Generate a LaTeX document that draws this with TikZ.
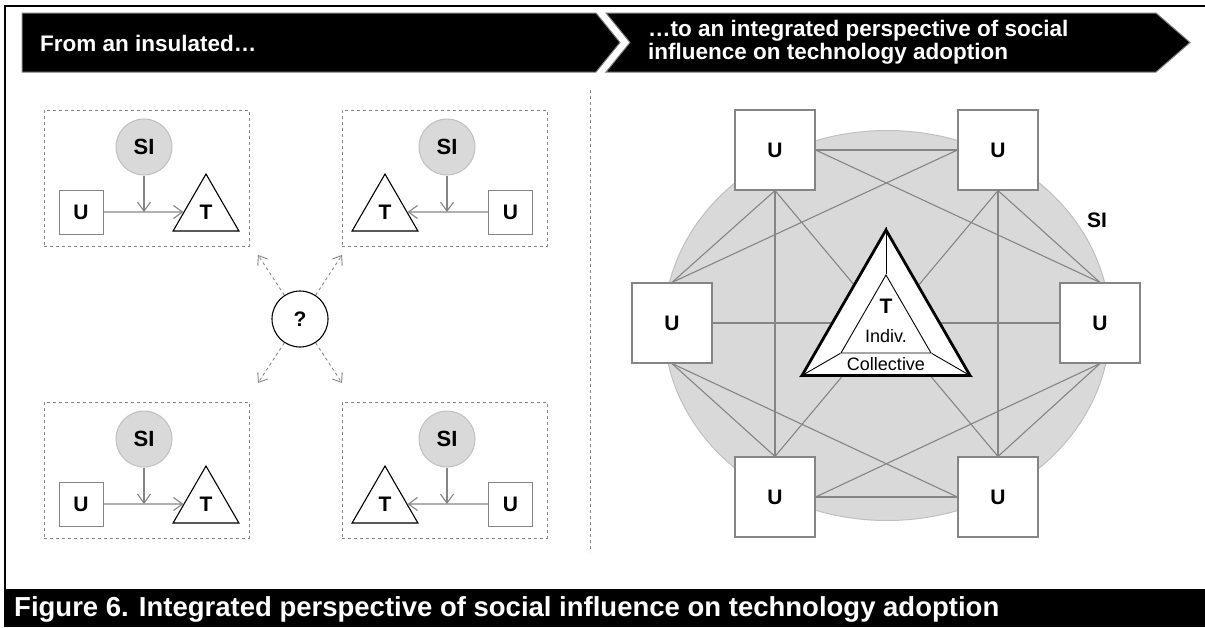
\documentclass[tikz,border=0pt]{standalone}
\usepackage{fontspec}
\setmainfont{Liberation Sans}
\usetikzlibrary{shapes.geometric,arrows.meta}
\definecolor{sigray}{HTML}{D9D9D9}
\definecolor{siedge}{HTML}{C0C0C0}
\definecolor{lgray}{HTML}{858585}
\begin{document}
\begin{tikzpicture}[x=1pt,y=-1pt,
  hdr/.style={font=\fontsize{22.5}{23}\selectfont\bfseries, text=white, inner sep=0},
  ubox/.style={draw=lgray, fill=white, minimum size=44, inner sep=0, line width=1, font=\fontsize{21}{22}\selectfont\bfseries},
  bigu/.style={draw=lgray, fill=white, minimum size=80, inner sep=0, line width=1.1, font=\fontsize{21}{22}\selectfont\bfseries},
  sic/.style={circle, draw=siedge, fill=sigray, minimum size=56, inner sep=0, line width=1, font=\fontsize{22}{22}\selectfont\bfseries},
  ttri/.style={regular polygon, regular polygon sides=3, draw=black, fill=white, minimum size=76, inner sep=0, line width=1.1, font=\fontsize{21}{22}\selectfont\bfseries},
  dbox/.style={draw=lgray, dashed, minimum width=205, minimum height=136, inner sep=0, line width=0.8},
  flow/.style={draw=lgray, line width=1.1, -{Straight Barb[length=9,width=13]}},
  qarrow/.style={draw=lgray, dashed, line width=0.9, -{Straight Barb[length=8,width=12]}},
  net/.style={draw=lgray, line width=1.1},
]
\useasboundingbox (0,0) rectangle (1205,627);
% frame
\draw[line width=1.5] (5,627) -- (5,6) -- (1205,6);
% header bands
\filldraw[fill=black, draw=gray, line width=1] (22,13) -- (596,13) -- (620,42.5) -- (596,72) -- (22,72) -- cycle;
\filldraw[fill=black, draw=gray, line width=1] (606,13) -- (1156,13) -- (1190,42.5) -- (1156,72) -- (606,72) -- (630,42.5) -- cycle;
\node[hdr, anchor=west] (h1) at (40,43) {From an insulated…};
\node[hdr, anchor=west, align=left] (h2) at (648,42.5) {…to an integrated perspective of social\\influence on technology adoption};

% left panel boxes
\node[dbox] (B1) at (146.5,178) {};
\node[sic] (SI1) at (144,147) {SI};
\node[ubox] (U1) at (81,212) {U};
\node[ttri] (T1) at (206,212) {T};
\draw[flow] (U1) -- (T1);
\draw[flow] (SI1) -- (SI1 |- U1);

\node[dbox] (B2) at (444.5,178) {};
\node[sic] (SI2) at (447,147) {SI};
\node[ubox] (U2) at (510.5,212) {U};
\node[ttri] (T2) at (385,212) {T};
\draw[flow] (U2) -- (T2);
\draw[flow] (SI2) -- (SI2 |- U2);

\node[dbox] (B3) at (146.5,470) {};
\node[sic] (SI3) at (144,439) {SI};
\node[ubox] (U3) at (81,504) {U};
\node[ttri] (T3) at (206,504) {T};
\draw[flow] (U3) -- (T3);
\draw[flow] (SI3) -- (SI3 |- U3);

\node[dbox] (B4) at (444.5,470) {};
\node[sic] (SI4) at (447,439) {SI};
\node[ubox] (U4) at (510.5,504) {U};
\node[ttri] (T4) at (385,504) {T};
\draw[flow] (U4) -- (T4);
\draw[flow] (SI4) -- (SI4 |- U4);

% question
\node[circle, draw=black, fill=white, line width=1.1, minimum size=56, inner sep=0, font=\fontsize{21}{22}\selectfont\bfseries] (Q) at (300,319) {?};
\coordinate (q1) at (258,255);
\coordinate (q2) at (342,255);
\coordinate (q3) at (258,383);
\coordinate (q4) at (342,383);
\draw[qarrow] (Q) -- (q1);
\draw[qarrow] (Q) -- (q2);
\draw[qarrow] (Q) -- (q3);
\draw[qarrow] (Q) -- (q4);

% divider
\coordinate (d1) at (590,90);
\coordinate (d2) at (590,552);
\draw[draw=lgray, dashed, line width=0.8] (d1) -- (d2);

% right network
\node[ellipse, fill=sigray, draw=siedge, line width=1, minimum width=446, minimum height=390, inner sep=0] (E) at (887,325.5) {};
\node[bigu] (UTL) at (775,150) {U};
\node[bigu] (UTR) at (998,150) {U};
\node[bigu] (UL) at (672,323) {U};
\node[bigu] (UR) at (1100,323) {U};
\node[bigu] (UBL) at (775,497) {U};
\node[bigu] (UBR) at (998,497) {U};
\draw[net] (UTL.east) -- (UTR.west);
\draw[net] (UTL.south) -- (UL.north);
\draw[net] (UTL.south) -- (UBL.north);
\draw[net] (UTL.south) -- (UBR.north);
\draw[net] (UTL.east) -- (UR.north);
\draw[net] (UTR.south) -- (UR.north);
\draw[net] (UTR.south) -- (UBR.north);
\draw[net] (UTR.south) -- (UBL.north);
\draw[net] (UTR.west) -- (UL.north);
\draw[net] (UL.east) -- (UR.west);
\draw[net] (UL.south) -- (UBL.north);
\draw[net] (UL.south) -- (UBR.west);
\draw[net] (UBL.east) -- (UBR.west);
\draw[net] (UBL.east) -- (UR.south);
\draw[net] (UBR.north) -- (UR.south);
\node[font=\fontsize{21}{22}\selectfont\bfseries] (SIlab) at (1097,220) {SI};

% central triangle
\node[regular polygon, regular polygon sides=3, minimum size=194, draw=black, fill=white, line width=2.8, inner sep=0] (BT) at (886,327) {};
\node[regular polygon, regular polygon sides=3, minimum size=104, draw=black, line width=0.9, inner sep=0] (IT) at (886,327) {};
\draw[line width=0.9] (BT.corner 1) -- (IT.corner 1);
\draw[line width=0.9] (BT.corner 2) -- (IT.corner 2);
\draw[line width=0.9] (BT.corner 3) -- (IT.corner 3);
\node[font=\fontsize{21}{22}\selectfont\bfseries] (Tlab) at (886,306) {T};
\node[font=\fontsize{18}{19}\selectfont] (ind) at (886,336) {Indiv.};
\node[font=\fontsize{18}{19}\selectfont] (col) at (886,364) {Collective};

% caption
\fill[black] (5,589) rectangle (1205,627);
\node[anchor=west, text=white, inner sep=0, font=\fontsize{27.5}{28}\selectfont\bfseries] (cap) at (14,609) {Figure 6. Integrated perspective of social influence on technology adoption};
\end{tikzpicture}
\end{document}
